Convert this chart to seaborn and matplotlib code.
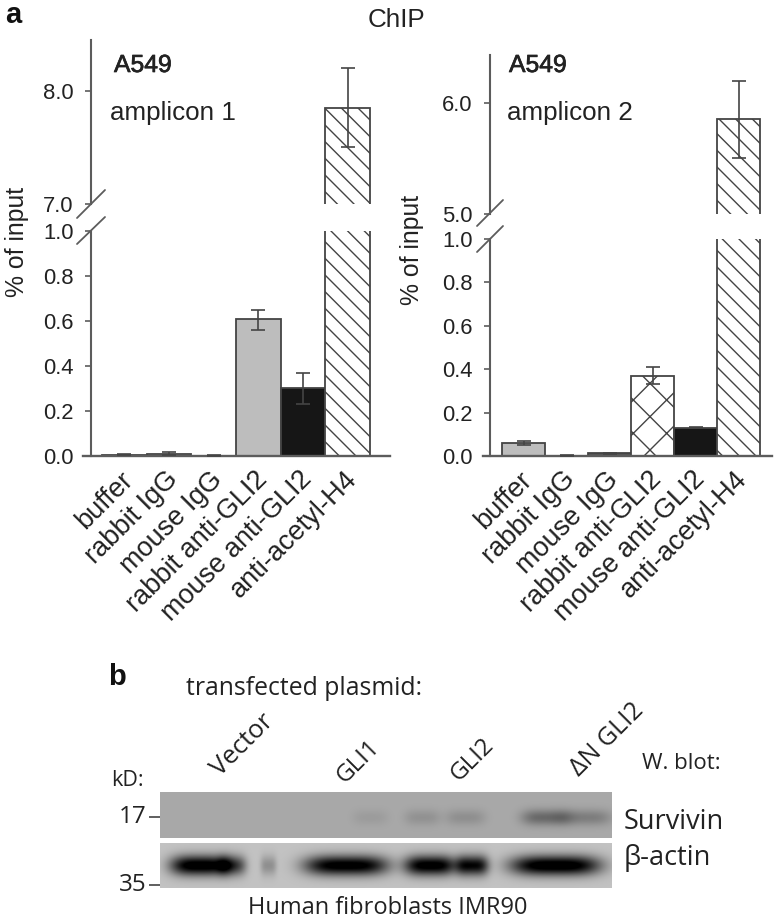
import numpy as np
import matplotlib
matplotlib.use("Agg")
import matplotlib.pyplot as plt
from matplotlib.lines import Line2D
from matplotlib.transforms import ScaledTranslation
from matplotlib import patheffects
import seaborn as sns

W, H = 775, 921
DARK = "#444444"
AXIS = "#5c5c5c"
TEXT = "#222222"

categories = ["buffer", "rabbit IgG", "mouse IgG", "rabbit anti-GLI2", "mouse anti-GLI2", "anti-acetyl-H4"]

amp1_values = [0.005, 0.01, 0.002, 0.61, 0.30, 7.85]
amp1_err_lo = [0.002, 0.005, 0.001, 0.05, 0.07, 0.35]
amp1_err_hi = [0.002, 0.006, 0.001, 0.04, 0.07, 0.35]
amp1_colors = ["#bdbdbd", "#bdbdbd", "#bdbdbd", "#bdbdbd", "#161616", "#ffffff"]
amp1_hatches = ["", "", "", "", "", "\\\\"]

amp2_values = [0.06, 0.002, 0.012, 0.37, 0.13, 5.85]
amp2_err_lo = [0.01, 0.001, 0.002, 0.04, 0.003, 0.35]
amp2_err_hi = [0.01, 0.001, 0.002, 0.04, 0.003, 0.35]
amp2_colors = ["#bdbdbd", "#bdbdbd", "#555555", "#ffffff", "#161616", "#ffffff"]
amp2_hatches = ["", "", "", "x", "", "\\\\"]

lower_ticks = [0.0, 0.2, 0.4, 0.6, 0.8, 1.0]

lanes = ["Vector", "GLI1", "GLI2", "\u0394N GLI2"]

# western blot bands, in pixel columns of the panel: centre, half width, strength
survivin_centres = [210, 262, 305, 385, 425]
survivin_widths = [18, 18, 20, 24, 26]
survivin_strength = [0.05, 0.09, 0.10, 0.25, 0.17]
actin_centres = [40, 72, 108, 186, 270, 312, 395]
actin_widths = [30, 14, 8, 42, 26, 16, 45]
actin_strength = [0.85, 0.45, 0.2, 0.82, 0.82, 0.75, 0.86]


def axes_px(x0, top, x1, bottom):
    return fig.add_axes([x0 / W, 1 - bottom / H, (x1 - x0) / W, (bottom - top) / H])


def bars(ax, values, lo, hi, colors, hatches):
    sns.barplot(x=categories, y=values, hue=categories, palette=colors, legend=False,
                errorbar=None, width=1, dodge=False, edgecolor=DARK, linewidth=1.3, ax=ax)
    for patch, hatch in zip(ax.patches, hatches):
        patch.set_hatch(hatch)
    ax.errorbar(range(len(values)), values, yerr=[lo, hi], fmt="none", ecolor=DARK,
                elinewidth=1.2, capsize=5, capthick=1.2, zorder=5)


def panel(values, lo, hi, colors, hatches, axis_x, base_x0, base_x1, bar_x0, bar_w,
          ax_top, break_top, break_low, y0, top_ticks, top_max, label_x):
    data_x = lambda px: -0.5 + (px - bar_x0) / bar_w
    low = axes_px(base_x0, break_low, base_x1, y0)
    up = axes_px(base_x0, ax_top, base_x1, break_top)
    for ax in (low, up):
        bars(ax, values, lo, hi, colors, hatches)
        ax.set_xlim(data_x(base_x0), data_x(base_x1))
        ax.patch.set_alpha(0)
        for s in ("top", "right"):
            ax.spines[s].set_visible(False)
        ax.spines["left"].set_position(("data", data_x(axis_x)))
        ax.spines["left"].set_color(AXIS)
        ax.spines["left"].set_linewidth(1.5)
        ax.tick_params(axis="y", left=True, length=4.5, width=1.2, color=AXIS, pad=8,
                       labelsize=15.8, labelcolor=TEXT)
        ax.set_ylabel("")
    low.set_ylim(0, 1)
    low.set_yticks(lower_ticks)
    low.set_yticklabels([f"{t:.1f}" for t in lower_ticks])
    low.spines["bottom"].set_color(AXIS)
    low.spines["bottom"].set_linewidth(1.7)
    low.set_xticks(range(len(categories)))
    low.set_xticklabels(categories, rotation=45, ha="right", va="top", rotation_mode="anchor",
                        fontsize=19.5, color=TEXT)
    low.tick_params(axis="x", bottom=False, pad=1.5)
    shift = ScaledTranslation(-4 / 100, 0, fig.dpi_scale_trans)
    for lab in low.get_xticklabels():
        lab.set_transform(lab.get_transform() + shift)
    up.set_ylim(top_ticks[0], top_max)
    up.set_yticks(top_ticks)
    up.set_yticklabels([f"{t:.1f}" for t in top_ticks])
    up.spines["bottom"].set_visible(False)
    up.set_xticks([])
    low.set_ylabel("% of input", fontsize=17.8, color=TEXT)
    low.yaxis.set_label_coords((label_x - base_x0) / (base_x1 - base_x0), 0.95)
    return low, up


def slash(x0, y0, x1, y1):
    fig.add_artist(Line2D([x0 / W, x1 / W], [1 - y0 / H, 1 - y1 / H], color=AXIS, lw=1.3))


def label(x, y, s, **kw):
    kw.setdefault("color", TEXT)
    kw.setdefault("va", "center")
    return fig.text(x / W, 1 - y / H, s, **kw)


sns.set_theme(style="white")
plt.rcParams["font.family"] = ["Liberation Sans", "DejaVu Sans"]
plt.rcParams["hatch.linewidth"] = 1.0

fig = plt.figure(figsize=(W / 100, H / 100), dpi=100)

panel(amp1_values, amp1_err_lo, amp1_err_hi, amp1_colors, amp1_hatches,
      91, 83, 390, 102, 44.7, 40, 204, 231, 456, [7.0, 8.0], 8.45, 29)
panel(amp2_values, amp2_err_lo, amp2_err_hi, amp2_colors, amp2_hatches,
      490, 483, 772, 502, 43, 55, 214, 239, 456, [5.0, 6.0], 6.43, 424)

slash(77, 218, 105, 190)
slash(77, 244, 105, 217)
slash(477, 226, 503, 200)
slash(477, 252, 503, 226)

label(5, 15, "a", fontsize=21, fontweight="bold", color="#111111")
label(396, 20, "ChIP", fontsize=18.7, ha="center")
stroke = [patheffects.withStroke(linewidth=0.5, foreground=TEXT)]
label(114, 65, "A549", fontsize=17.8, path_effects=stroke)
label(110, 113, "amplicon 1", fontsize=18.7)
label(509, 65, "A549", fontsize=17.8, path_effects=stroke)
label(507, 113, "amplicon 2", fontsize=18.7)


# ---- panel b: western blot
def blot(centres, widths, strength, background, row, row_sigma, shape):
    rows, cols = shape
    yy, xx = np.mgrid[0:rows, 0:cols]
    img = np.full(shape, background, dtype=float)
    for c, w, s in zip(centres, widths, strength):
        img -= s * np.exp(-np.abs((xx - c) / w) ** 3.5) * np.exp(-((yy - row) / row_sigma) ** 2)
    return np.clip(img, 0, 1)


surv_ax = axes_px(160, 792, 612, 838)
sns.heatmap(blot(survivin_centres, survivin_widths, survivin_strength, 0.66, 25, 8, (46, 452)),
            cmap="gray", vmin=0, vmax=1, cbar=False, ax=surv_ax, rasterized=True)
act_ax = axes_px(160, 843, 612, 888)
sns.heatmap(blot(actin_centres, actin_widths, actin_strength, 0.76, 22, 10, (45, 452)),
            cmap="gray", vmin=0, vmax=1, cbar=False, ax=act_ax, rasterized=True)
for ax, tick, name in ((surv_ax, 25, "17"), (act_ax, 42, "35")):
    ax.set_xticks([])
    ax.set_yticks([tick])
    ax.set_yticklabels([name], rotation=0, fontsize=17.5, fontfamily="Open Sans", color=TEXT)
    ax.tick_params(axis="y", left=True, length=8, width=1.2, color=DARK, pad=2)

label(108, 677, "b", fontsize=21, fontweight="bold", color="#111111", ha="left")
blot_font = dict(fontfamily="Open Sans")
label(186, 688, "transfected plasmid:", fontsize=17.8, **blot_font)
for s, x, y, size in zip(lanes, [243, 358, 472, 607], [745, 762, 760, 740], [18.5, 17.5, 17.5, 18]):
    label(x, y, s, fontsize=size, rotation=45, ha="center", **blot_font)
label(642, 763, "W. blot:", fontsize=16, **blot_font)
label(111, 780, "kD:", fontsize=15.5, **blot_font)
label(624, 822, "Survivin", fontsize=19.5, **blot_font)
label(624, 858, "\u03b2-actin", fontsize=19.5, **blot_font)
label(248, 908, "Human fibroblasts IMR90", fontsize=17, **blot_font)

fig.savefig("out.png", dpi=100)
